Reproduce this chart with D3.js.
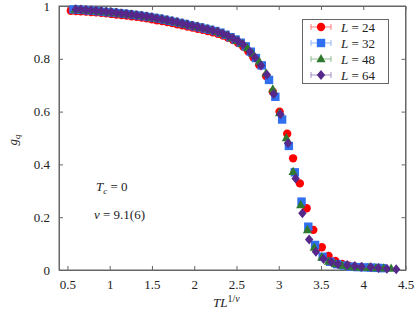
<!DOCTYPE html>
<meta charset="utf-8">
<style>
body { margin: 0; background: #fff; }
svg text { font-family: "Liberation Serif", "DejaVu Serif", serif !important; }
.axis path, .axis line { stroke: #666; }
.axis text { font-size: 13px; fill: #222; }
</style>
<body>
<svg width="415" height="314"></svg>
<script src="https://cdn.jsdelivr.net/npm/d3@7"></script>
<script>

var xTicks = [0.5, 1, 1.5, 2, 2.5, 3, 3.5, 4, 4.5];
var yTicks = [0, 0.2, 0.4, 0.6, 0.8, 1];
var sizes = ["24", "32", "48", "64"];

// [T L^{1/nu}, g_q]
var l24 = [[0.54,.982],[0.60,.981],[0.66,.980],[0.72,.979],[0.78,.977],[0.84,.976],[0.90,.974],[0.96,.972],
  [1.02,.970],[1.08,.968],[1.14,.966],[1.20,.964],[1.26,.961],[1.32,.959],[1.38,.956],[1.44,.953],[1.50,.950],
  [1.56,.946],[1.62,.943],[1.68,.939],[1.74,.935],[1.80,.931],[1.86,.927],[1.92,.922],[1.98,.918],[2.04,.914],
  [2.10,.910],[2.16,.905],[2.22,.900],[2.28,.895],[2.34,.888],[2.40,.880],[2.46,.871],[2.52,.860],[2.58,.846],
  [2.64,.828],[2.70,.806],[2.77,.776],[2.85,.735],[2.93,.675],[3.01,.600],[3.10,.516],[3.17,.423],[3.25,.328],
  [3.33,.234],[3.41,.152],[3.51,.086],[3.59,.053],[3.67,.034],[3.75,.023],[3.83,.016],[3.91,.012]];

var l32 = [[0.57,.987],[0.63,.986],[0.69,.985],[0.75,.983],[0.81,.982],[0.87,.980],[0.93,.978],[0.99,.976],
  [1.05,.975],[1.11,.973],[1.17,.971],[1.23,.969],[1.29,.966],[1.35,.964],[1.41,.961],[1.47,.958],[1.53,.955],
  [1.59,.952],[1.65,.948],[1.71,.944],[1.77,.940],[1.83,.936],[1.89,.932],[1.95,.927],[2.01,.923],[2.07,.919],
  [2.13,.914],[2.19,.910],[2.25,.905],[2.31,.899],[2.37,.891],[2.43,.882],[2.49,.873],[2.55,.861],[2.61,.847],
  [2.67,.827],[2.73,.803],[2.80,.775],[2.885,.720],[2.96,.656],[3.04,.570],[3.12,.470],[3.19,.370],[3.27,.259],
  [3.35,.164],[3.43,.095],[3.52,.050],[3.61,.031],[3.69,.022],[3.77,.017],[3.85,.013],[3.93,.011],[4.01,.010],
  [4.09,.009],[4.17,.008],[4.22,.007]];

var l48 = [[0.59,.987],[0.65,.986],[0.71,.984],[0.77,.983],[0.83,.981],[0.89,.979],[0.95,.977],[1.01,.976],
  [1.07,.974],[1.13,.972],[1.19,.970],[1.25,.968],[1.31,.966],[1.37,.963],[1.43,.960],[1.49,.957],[1.55,.954],
  [1.61,.951],[1.67,.947],[1.73,.943],[1.79,.939],[1.85,.935],[1.91,.930],[1.97,.926],[2.03,.922],[2.09,.918],
  [2.15,.913],[2.21,.908],[2.27,.903],[2.33,.896],[2.39,.889],[2.45,.879],[2.51,.869],[2.57,.857],[2.63,.841],
  [2.69,.820],[2.77,.790],[2.85,.745],[2.93,.685],[3.01,.595],[3.09,.500],[3.17,.372],[3.26,.246],[3.34,.152],
  [3.42,.085],[3.51,.048],[3.59,.032],[3.67,.023],[3.75,.017],[3.83,.013],[3.91,.011],[3.99,.010],[4.07,.009],
  [4.15,.008],[4.24,.007],[4.33,.006]];

var l64 = [[0.60,.988],[0.66,.987],[0.72,.985],[0.78,.984],[0.84,.982],[0.90,.980],[0.96,.978],[1.02,.976],
  [1.08,.974],[1.14,.972],[1.20,.970],[1.26,.968],[1.32,.965],[1.38,.963],[1.44,.960],[1.50,.957],[1.56,.953],
  [1.62,.950],[1.68,.946],[1.74,.942],[1.80,.938],[1.86,.934],[1.92,.929],[1.98,.925],[2.04,.921],[2.10,.917],
  [2.16,.912],[2.22,.907],[2.28,.902],[2.34,.895],[2.40,.887],[2.46,.878],[2.52,.867],[2.58,.854],[2.66,.827],
  [2.72,.805],[2.79,.775],[2.86,.740],[2.94,.667],[3.02,.590],[3.11,.480],[3.20,.347],[3.28,.215],[3.36,.116],
  [3.44,.069],[3.53,.042],[3.62,.031],[3.70,.023],[3.81,.019],[3.90,.015],[3.98,.0125],[4.09,.010],[4.18,.0076],
  [4.28,.005],[4.39,.003]];

var series = [l24, l32, l48, l64];
var colors = ["#ff0000", "#2f6ff0", "#2f7a2f", "#55288a"];

var svg = d3.select("svg");
var mLeft = 59, mTop = 6, mRight = 405.5, mBottom = 270;

var x = d3.scaleLinear().domain([0.4, 4.5]).range([mLeft, mRight]);
var y = d3.scaleLinear().domain([0, 1]).range([mBottom, mTop]);

// marker shapes
function marker(k) {
  if (k == 0) return d3.symbol(d3.symbolCircle, 55)();
  if (k == 1) return "M-4.2,-4.2H4.2V4.2H-4.2Z";
  if (k == 2) return "M0,-5L4.6,3.3H-4.6Z";
  return "M0,-5L4.2,0L0,5L-4.2,0Z";
}

// axes, ticks pointing inward
svg.append("g").attr("class", "axis")
    .attr("transform", "translate(0," + mBottom + ")")
    .call(d3.axisBottom(x).tickValues(xTicks).tickSize(-4).tickSizeOuter(0).tickPadding(10)
      .tickFormat(d3.format("")));
svg.append("g").attr("class", "axis")
    .attr("transform", "translate(0," + mTop + ")")
    .call(d3.axisTop(x).tickValues(xTicks).tickSize(-4).tickSizeOuter(0).tickFormat(""));
svg.append("g").attr("class", "axis")
    .attr("transform", "translate(" + mLeft + ",0)")
    .call(d3.axisLeft(y).tickValues(yTicks).tickSize(-4).tickSizeOuter(0).tickPadding(9)
      .tickFormat(d3.format("")));
svg.append("g").attr("class", "axis")
    .attr("transform", "translate(" + mRight + ",0)")
    .call(d3.axisRight(y).tickValues(yTicks).tickSize(-4).tickSizeOuter(0).tickFormat(""));

svg.append("rect")
    .attr("x", mLeft).attr("y", mTop)
    .attr("width", mRight - mLeft).attr("height", mBottom - mTop)
    .attr("fill", "none").attr("stroke", "#666");

// data points
series.forEach(function(s, k) {
  svg.append("g").selectAll("path")
    .data(s)
    .enter().append("path")
      .attr("d", marker(k))
      .attr("fill", colors[k])
      .attr("transform", function(d) { return "translate(" + x(d[0]) + "," + y(d[1]) + ")"; });
});

// legend
var lg = svg.append("g");
lg.append("rect")
    .attr("x", 302.5).attr("y", 19.5).attr("width", 86).attr("height", 64)
    .attr("fill", "#fff").attr("stroke", "#666");
sizes.forEach(function(L, k) {
  var yy = 27 + k * 16;
  var row = lg.append("g").attr("transform", "translate(0," + yy + ")");
  row.append("path")
      .attr("d", "M311,0H331M311,-3V3M331,-3V3")
      .attr("stroke", colors[k]).attr("stroke-opacity", 0.5).attr("fill", "none");
  row.append("path").attr("d", marker(k)).attr("fill", colors[k])
      .attr("transform", "translate(321,0)");
  var t = row.append("text").attr("x", 341).attr("y", 4.5).attr("font-size", 13).attr("fill", "#222");
  t.append("tspan").attr("font-style", "italic").text("L");
  t.append("tspan").text(" = " + L);
});

// annotations
var a1 = svg.append("text").attr("x", 96).attr("y", 191).attr("font-size", 13).attr("fill", "#222");
a1.append("tspan").attr("font-style", "italic").text("T");
a1.append("tspan").attr("font-size", 9).attr("dy", 3).attr("font-style", "italic").text("c");
a1.append("tspan").attr("dy", -3).text(" = 0");

var a2 = svg.append("text").attr("x", 94).attr("y", 219).attr("font-size", 13).attr("fill", "#222");
a2.append("tspan").attr("font-style", "italic").text("ν");
a2.append("tspan").text(" = 9.1(6)");

// axis titles
var xl = svg.append("text").attr("x", 213).attr("y", 307).attr("font-size", 13).attr("fill", "#222");
xl.append("tspan").attr("font-style", "italic").text("TL");
xl.append("tspan").attr("font-size", 10).attr("dy", -5).text("1/");
xl.append("tspan").attr("font-size", 10).attr("font-style", "italic").text("ν");

var yl = svg.append("text").attr("transform", "translate(17,140) rotate(-90)")
    .attr("text-anchor", "middle").attr("font-size", 13).attr("fill", "#222");
yl.append("tspan").attr("font-style", "italic").text("g");
yl.append("tspan").attr("font-size", 9).attr("dy", 3).attr("font-style", "italic").text("q");

</script>
</body>
